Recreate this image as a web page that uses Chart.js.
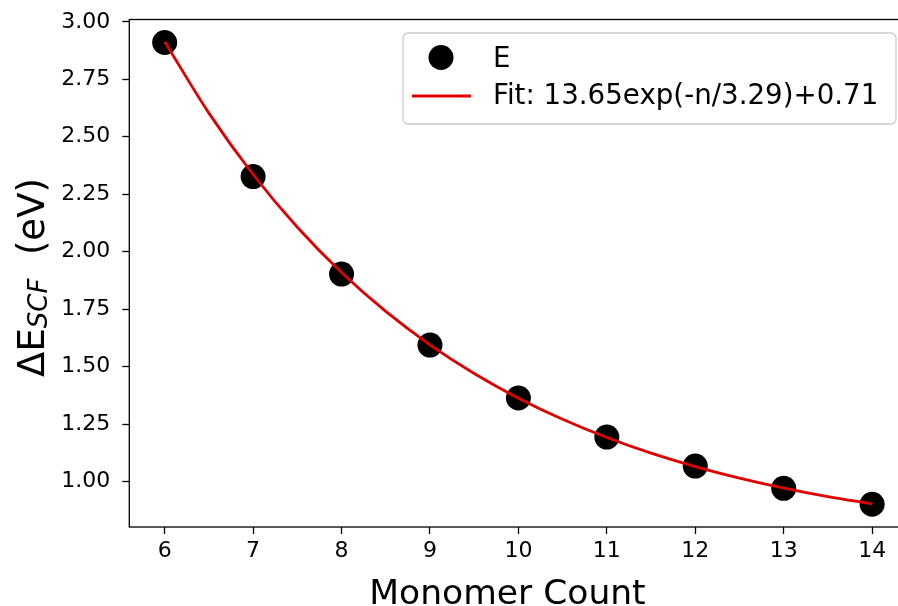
<!DOCTYPE html>
<html>
<head>
<meta charset="utf-8">
<script src="https://cdn.jsdelivr.net/npm/chart.js@4.4.1/dist/chart.umd.min.js"></script>
<style>
  html, body { margin: 0; padding: 0; background: #fff; overflow: hidden; width: 898px; height: 606px; }
  #wrap { width: 920px; height: 606px; }
</style>
</head>
<body>
<div id="wrap"><canvas id="c" width="920" height="606"></canvas></div>
<script>
// Monomer counts and the computed excitation energies (eV)
const monomerCounts = [6, 7, 8, 9, 10, 11, 12, 13, 14];
const energies = [2.910, 2.327, 1.903, 1.594, 1.364, 1.194, 1.068, 0.971, 0.902];

// Exponential fit 13.65*exp(-n/3.29)+0.71, sampled every half monomer
const fitN = [6, 6.5, 7, 7.5, 8, 8.5, 9, 9.5, 10, 10.5, 11, 11.5, 12, 12.5, 13, 13.5, 14];
const fitE = [2.9135, 2.6028, 2.3359, 2.1067, 1.9098, 1.7406, 1.5953, 1.4705, 1.3633,
              1.2712, 1.1921, 1.1241, 1.0657, 1.0156, 0.9725, 0.9355, 0.9037];

const xTicks = [6, 7, 8, 9, 10, 11, 12, 13, 14];
const yTicks = [1.00, 1.25, 1.50, 1.75, 2.00, 2.25, 2.50, 2.75, 3.00];

const seriesLabel = 'E';
const fitLabel = 'Fit: 13.65exp(-n/3.29)+0.71';
const xTitle = 'Monomer Count';

const FONT = "'DejaVu Sans', sans-serif";
const RED = '#e00000';

// Keep the axes box exactly where the layout padding puts it
function noLabelOverhang(scale) {
  scale.paddingTop = 0;
  scale.paddingBottom = 0;
  scale.paddingLeft = 0;
  scale.paddingRight = 0;
}

// Frame around the axes (its right side falls just past the page edge)
const framePlugin = {
  id: 'frame',
  afterDatasetsDraw(chart) {
    const { ctx, chartArea: a } = chart;
    ctx.save();
    ctx.strokeStyle = '#000';
    ctx.lineWidth = 1.3;
    ctx.strokeRect(a.left, a.top, a.right - a.left, a.bottom - a.top);
    ctx.restore();
  }
};

// Axis titles: plain x title, y title with an italic subscript
const titlesPlugin = {
  id: 'axisTitles',
  afterDraw(chart) {
    const { ctx } = chart;
    ctx.save();
    ctx.fillStyle = '#000';
    ctx.textBaseline = 'alphabetic';

    ctx.font = '34.5px ' + FONT;
    ctx.textAlign = 'center';
    ctx.fillText(xTitle, 507.5, 603.5);

    const main = '37px ' + FONT;
    const sub = 'italic 26px ' + FONT;
    ctx.textAlign = 'left';
    ctx.font = main;
    const w1 = ctx.measureText('ΔE').width;
    const w3 = ctx.measureText('  (eV)').width;
    ctx.font = sub;
    const w2 = ctx.measureText('SCF').width;
    const total = w1 + w2 + w3;
    ctx.translate(43.5, 277.5);
    ctx.rotate(-Math.PI / 2);
    let x = -total / 2;
    ctx.font = main;
    ctx.fillText('ΔE', x, 0);
    x += w1;
    ctx.font = sub;
    ctx.fillText('SCF', x, 3);
    x += w2;
    ctx.font = main;
    ctx.fillText('  (eV)', x, 0);
    ctx.restore();
  }
};

// Legend box in the upper right of the axes
const legendPlugin = {
  id: 'boxLegend',
  afterDraw(chart) {
    const { ctx } = chart;
    const bx = 403, by = 33, bw = 493, bh = 91, r = 5;
    ctx.save();
    ctx.fillStyle = 'rgba(255,255,255,0.8)';
    ctx.strokeStyle = '#cccccc';
    ctx.lineWidth = 1.3;
    ctx.beginPath();
    ctx.roundRect(bx, by, bw, bh, r);
    ctx.fill();
    ctx.stroke();

    // marker sample
    ctx.fillStyle = '#000';
    ctx.beginPath();
    ctx.arc(441, 57.5, 12.5, 0, Math.PI * 2);
    ctx.fill();
    // line sample
    ctx.strokeStyle = RED;
    ctx.lineWidth = 2.8;
    ctx.beginPath();
    ctx.moveTo(412, 96);
    ctx.lineTo(471, 96);
    ctx.stroke();

    ctx.fillStyle = '#000';
    ctx.font = '27.7px ' + FONT;
    ctx.textAlign = 'left';
    ctx.textBaseline = 'alphabetic';
    ctx.fillText(chart.data.datasets[0].label, 493, 67);
    ctx.fillText(chart.data.datasets[1].label, 493, 104);
    ctx.restore();
  }
};

new Chart(document.getElementById('c'), {
  type: 'scatter',
  data: {
    datasets: [
      {
        label: seriesLabel,
        data: monomerCounts.map((n, i) => ({ x: n, y: energies[i] })),
        backgroundColor: '#000',
        borderWidth: 0,
        pointRadius: 12.5,
        pointHoverRadius: 12.5,
        showLine: false,
        order: 2
      },
      {
        label: fitLabel,
        data: fitN.map((n, i) => ({ x: n, y: fitE[i] })),
        borderColor: RED,
        borderWidth: 2.8,
        pointRadius: 0,
        showLine: true,
        cubicInterpolationMode: 'monotone',
        fill: false,
        order: 1
      }
    ]
  },
  options: {
    responsive: false,
    animation: false,
    events: [],
    layout: { padding: { left: 0, right: 9.2, top: 19.5, bottom: 0 } },
    plugins: {
      legend: { display: false },
      tooltip: { enabled: false },
      title: { display: false }
    },
    scales: {
      x: {
        type: 'linear',
        min: 5.6,
        max: 14.4,
        afterBuildTicks(scale) { scale.ticks = xTicks.map(v => ({ value: v })); },
        afterFit(scale) { scale.height = 79; noLabelOverhang(scale); },
        border: { display: false },
        grid: { display: true, drawOnChartArea: false, drawTicks: true, tickLength: 7, tickWidth: 1.3, tickColor: '#000' },
        ticks: { color: '#000', font: { family: FONT, size: 22 }, padding: 4, maxRotation: 0, autoSkip: false },
        title: { display: false }
      },
      y: {
        type: 'linear',
        min: 0.803,
        max: 3.01,
        afterBuildTicks(scale) { scale.ticks = yTicks.map(v => ({ value: v })); },
        afterFit(scale) { scale.width = 129.3; noLabelOverhang(scale); },
        border: { display: false },
        grid: { display: true, drawOnChartArea: false, drawTicks: true, tickLength: 7, tickWidth: 1.3, tickColor: '#000' },
        ticks: {
          color: '#000',
          font: { family: FONT, size: 22 },
          padding: 12,
          autoSkip: false,
          callback: v => Number(v).toFixed(2)
        }
      }
    }
  },
  plugins: [framePlugin, titlesPlugin, legendPlugin]
});
</script>
</body>
</html>
